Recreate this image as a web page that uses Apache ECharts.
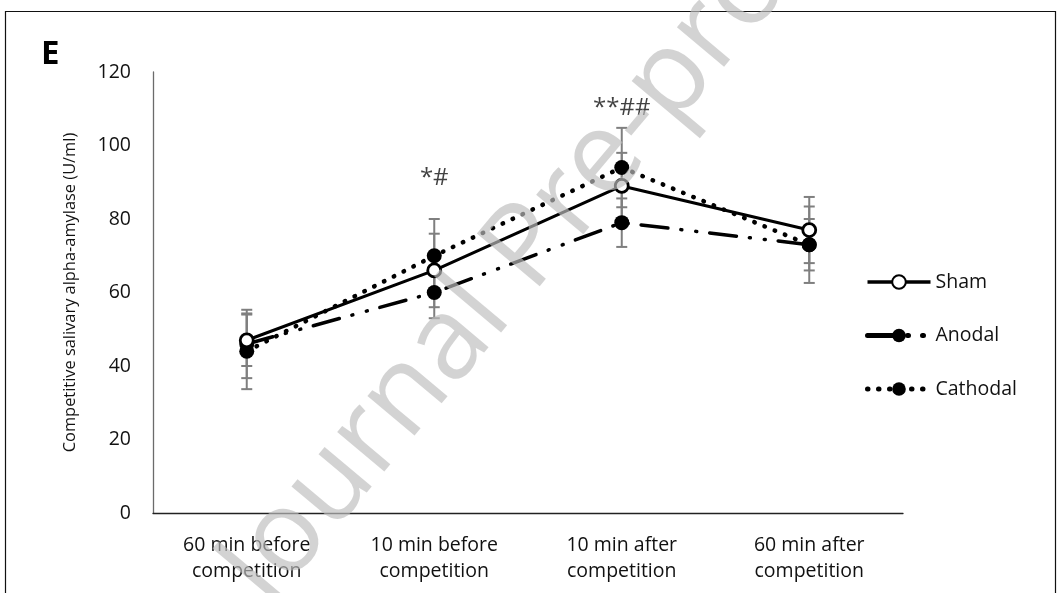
<!DOCTYPE html>
<html>
<head>
<meta charset="utf-8">
<script src="https://cdn.jsdelivr.net/npm/echarts@6/dist/echarts.min.js"></script>
<style>
html,body{margin:0;padding:0;background:#fff;}
#chart{width:1061px;height:593px;}
</style>
</head>
<body>
<div id="chart"></div>
<script>
var categories = ['60 min before\ncompetition', '10 min before\ncompetition', '10 min after\ncompetition', '60 min after\ncompetition'];
var shamValues = [47, 66, 89, 77];
var shamErrors = [7, 10, 9, 9];
var anodalValues = [46, 60, 79, 73];
var anodalErrors = [9.3, 7, 6.6, 7];
var cathodalValues = [44, 70, 94, 73];
var cathodalErrors = [10.3, 10, 10.8, 10.4];
var yTicks = [0, 20, 40, 60, 80, 100, 120];
var annotations = [[1, 91, '*#'], [2, 110.2, '**##']];

var FONT = 'Open Sans';

function errData(vals, errs) {
  return vals.map(function (v, i) { return [i, v - errs[i], v + errs[i]]; });
}
function errSeries(vals, errs) {
  return {
    type: 'custom',
    silent: true,
    z: 1,
    data: errData(vals, errs),
    renderItem: function (params, api) {
      var lo = api.coord([api.value(0), api.value(1)]);
      var hi = api.coord([api.value(0), api.value(2)]);
      var w = 5.5;
      var st = { stroke: '#7f7f7f', lineWidth: 2 };
      return {
        type: 'group',
        children: [
          { type: 'line', shape: { x1: lo[0], y1: lo[1], x2: hi[0], y2: hi[1] }, style: st },
          { type: 'line', shape: { x1: lo[0] - w, y1: lo[1], x2: lo[0] + w, y2: lo[1] }, style: st },
          { type: 'line', shape: { x1: hi[0] - w, y1: hi[1], x2: hi[0] + w, y2: hi[1] }, style: st }
        ]
      };
    }
  };
}

var chart = echarts.init(document.getElementById('chart'));
chart.setOption({
  animation: false,
  backgroundColor: '#fff',
  textStyle: { fontFamily: FONT },
  grid: { left: 153, right: 158, top: 72, bottom: 80 },
  xAxis: {
    type: 'category',
    data: categories,
    boundaryGap: true,
    axisLine: { lineStyle: { color: '#222', width: 1.3 } },
    axisTick: { show: false },
    axisLabel: { color: '#111', fontSize: 19.5, lineHeight: 26, margin: 19, fontFamily: FONT, interval: 0 }
  },
  yAxis: {
    type: 'value',
    min: 0, max: 120, interval: 20,
    name: 'Competitive salivary alpha-amylase (U/ml)',
    nameLocation: 'middle',
    nameGap: 75,
    nameTextStyle: { color: '#111', fontSize: 16.4, fontFamily: FONT },
    axisLine: { show: true, lineStyle: { color: '#6b6b6b', width: 1.3 } },
    axisTick: { show: false },
    splitLine: { show: false },
    axisLabel: { color: '#111', fontSize: 19.5, margin: 22, fontFamily: FONT,
      formatter: function (v) { return yTicks.indexOf(v) >= 0 ? String(v) : ''; } }
  },
  legend: {
    orient: 'vertical',
    left: 860,
    top: 267,
    itemWidth: 63,
    itemHeight: 17,
    itemGap: 33.5,
    textStyle: { color: '#111', fontSize: 19.5, fontFamily: FONT },
    data: [
      { name: 'Sham', lineStyle: { width: 3.5 } },
      { name: 'Anodal', lineStyle: { width: 5 } },
      { name: 'Cathodal', lineStyle: { width: 5 } }
    ]
  },
  series: [
    errSeries(shamValues, shamErrors),
    errSeries(anodalValues, anodalErrors),
    errSeries(cathodalValues, cathodalErrors),
    {
      name: 'Cathodal', type: 'line', data: cathodalValues, z: 3,
      symbol: 'circle', symbolSize: 15,
      itemStyle: { color: '#000' },
      lineStyle: { color: '#000', width: 4.5, type: [0.5, 10.5], cap: 'round' }
    },
    {
      name: 'Anodal', type: 'line', data: anodalValues, z: 4,
      symbol: 'circle', symbolSize: 15,
      itemStyle: { color: '#000' },
      lineStyle: { color: '#000', width: 3.5, type: [27, 13, 1, 14, 1, 13], cap: 'round' }
    },
    {
      name: 'Sham', type: 'line', data: shamValues, z: 5,
      symbol: 'circle', symbolSize: 13,
      itemStyle: { color: '#fff', borderColor: '#000', borderWidth: 2.8 },
      lineStyle: { color: '#000', width: 3 }
    },
    {
      type: 'scatter', silent: true, z: 6,
      symbolSize: 0,
      data: annotations.map(function (a) { return { value: [a[0], a[1]], label: { formatter: a[2] } }; }),
      label: { show: true, position: 'inside', color: '#111', fontSize: 24, fontFamily: FONT }
    }
  ],
  graphic: [
    { type: 'rect', shape: { x: 5.5, y: 11.5, width: 1050, height: 590 }, style: { fill: 'none', stroke: '#111', lineWidth: 1.2 }, z: 0, silent: true },
    { type: 'text', left: 41, top: 38, style: { text: 'E', fontSize: 33, fontWeight: 'bold', fill: '#000', fontFamily: FONT }, silent: true },
    { type: 'text', x: 540, y: 235, rotation: 50 * Math.PI / 180, z: 100, silent: true,
      style: { text: 'Journal Pre-proof', fontSize: 115, fontFamily: FONT, fill: 'rgba(190,190,190,0.67)', align: 'center', verticalAlign: 'middle' } }
  ]
});
</script>
</body>
</html>
